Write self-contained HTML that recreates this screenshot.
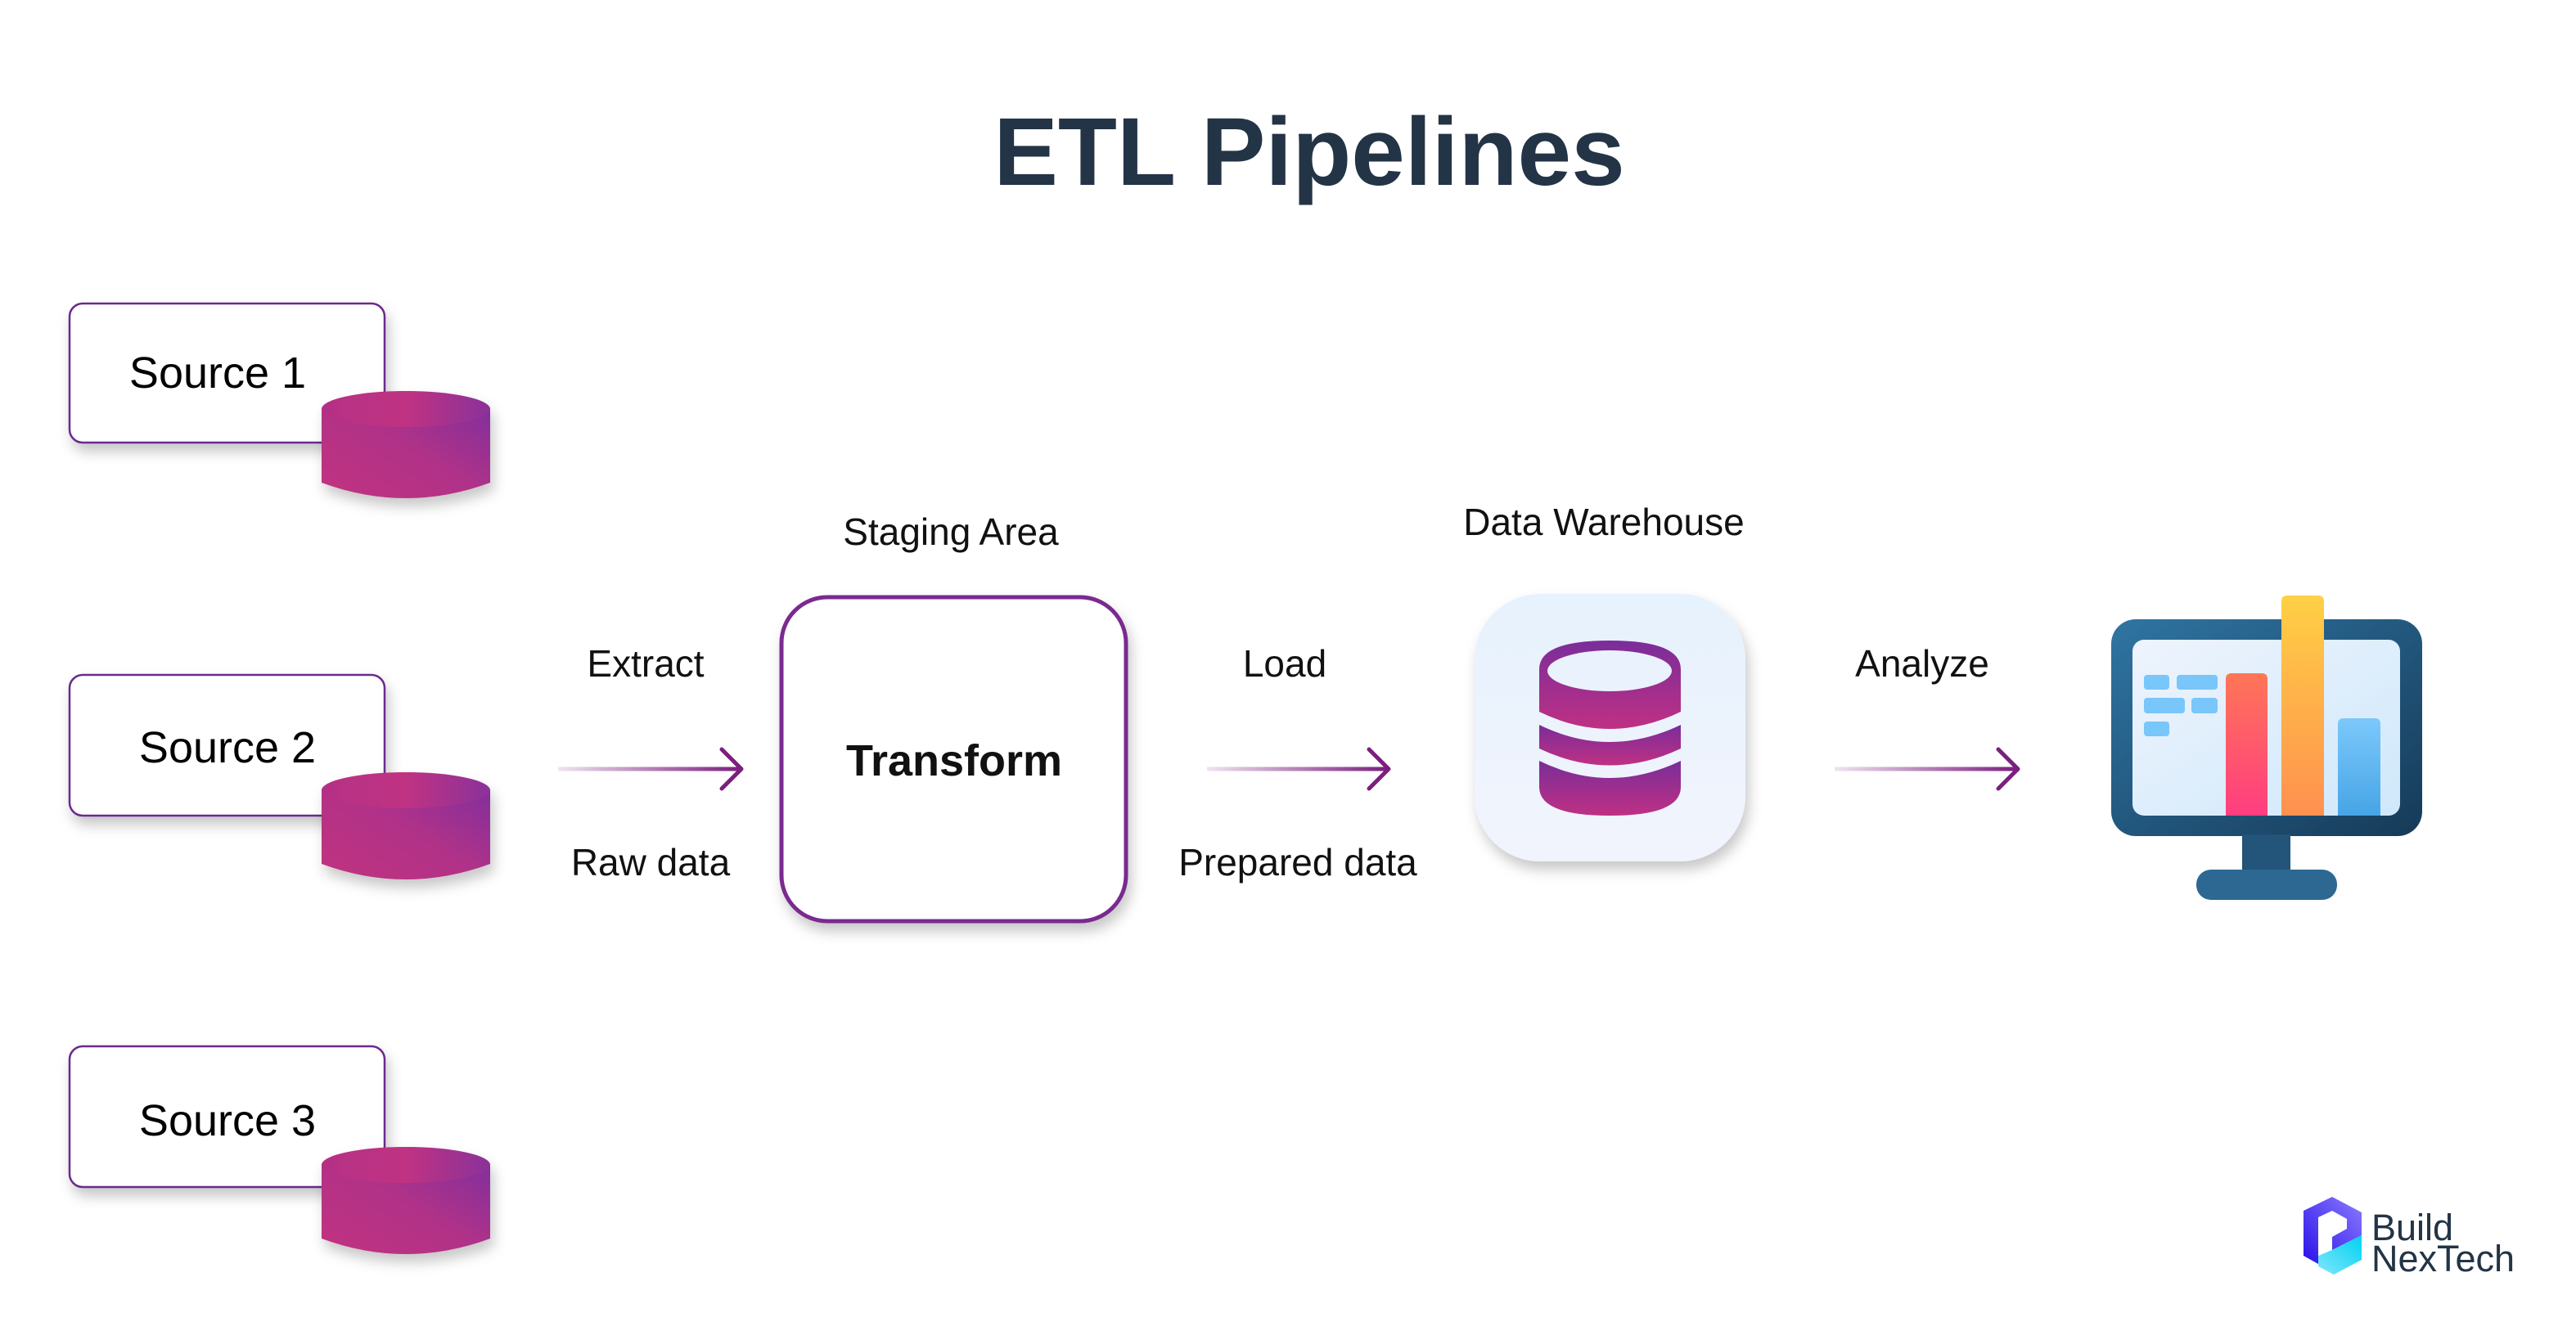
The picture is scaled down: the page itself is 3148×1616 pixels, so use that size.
<!DOCTYPE html>
<html><head><meta charset="utf-8"><style>
html,body{margin:0;padding:0;background:#fff;}
svg{display:block;}
text{font-family:"Liberation Sans",sans-serif;}
</style></head><body>
<svg width="3148" height="1616" viewBox="0 0 3148 1616" xmlns="http://www.w3.org/2000/svg">
<defs>
<linearGradient id="cyl" x1="0" y1="1" x2="1" y2="0">
<stop offset="0" stop-color="#c2307f"/><stop offset="0.5" stop-color="#b03088"/><stop offset="1" stop-color="#7a2fa0"/></linearGradient>
<linearGradient id="cyltop" x1="0" y1="0" x2="1" y2="0">
<stop offset="0" stop-color="#b52f86"/><stop offset="0.5" stop-color="#c03282"/><stop offset="1" stop-color="#8a309a"/></linearGradient>
<linearGradient id="arr" x1="0" y1="0" x2="1" y2="0">
<stop offset="0" stop-color="#7b1f7e" stop-opacity="0.12"/><stop offset="1" stop-color="#7b1f7e"/></linearGradient>
<linearGradient id="dwbg" x1="0" y1="0" x2="0" y2="1">
<stop offset="0" stop-color="#e6f2fd"/><stop offset="1" stop-color="#f2f4fd"/></linearGradient>
<linearGradient id="dbg" x1="0" y1="0" x2="0" y2="1">
<stop offset="0" stop-color="#7a2d9a"/><stop offset="1" stop-color="#bf3083"/></linearGradient>
<linearGradient id="mon" x1="0" y1="0" x2="1" y2="1">
<stop offset="0" stop-color="#2f75a3"/><stop offset="1" stop-color="#163a58"/></linearGradient>
<linearGradient id="scr" x1="0" y1="0" x2="1" y2="1">
<stop offset="0" stop-color="#eef4fd"/><stop offset="1" stop-color="#cfe8fb"/></linearGradient>
<linearGradient id="red" x1="0" y1="0" x2="0" y2="1"><stop offset="0" stop-color="#ff7657"/><stop offset="1" stop-color="#ff3d80"/></linearGradient>
<linearGradient id="yel" x1="0" y1="0" x2="0" y2="1"><stop offset="0" stop-color="#ffd044"/><stop offset="1" stop-color="#ff9050"/></linearGradient>
<linearGradient id="blu" x1="0" y1="0" x2="0" y2="1"><stop offset="0" stop-color="#7cc8fb"/><stop offset="1" stop-color="#46a5e6"/></linearGradient>
<linearGradient id="lg1" x1="0" y1="1" x2="1" y2="0"><stop offset="0" stop-color="#2a10e8"/><stop offset="1" stop-color="#8b7cff"/></linearGradient>
<linearGradient id="lg2" x1="0" y1="1" x2="1" y2="0"><stop offset="0" stop-color="#80e6fb"/><stop offset="1" stop-color="#00d2f2"/></linearGradient>
<filter id="sh" x="-20%" y="-20%" width="150%" height="160%"><feDropShadow dx="4" dy="10" stdDeviation="8" flood-color="#000" flood-opacity="0.22"/></filter>
<g id="cylinder">
<path d="M0 22 Q103 -22 206 22 L206 112 Q103 150 0 112 Z" fill="url(#cyl)"/>
<ellipse cx="103" cy="22" rx="103" ry="22" fill="url(#cyltop)"/>
</g>
</defs>

<text x="1600" y="226" font-size="118" font-weight="bold" fill="#233446" text-anchor="middle">ETL Pipelines</text>

<g>
<rect x="85" y="371" width="385" height="170" rx="16" fill="#fff" stroke="#6b2a8f" stroke-width="2.5" filter="url(#sh)"/>
<text x="266" y="474" font-size="54" text-anchor="middle" fill="#000">Source 1</text>
<use href="#cylinder" x="393" y="478" filter="url(#sh)"/>
<rect x="85" y="825" width="385" height="172" rx="16" fill="#fff" stroke="#6b2a8f" stroke-width="2.5" filter="url(#sh)"/>
<text x="278" y="932" font-size="54" text-anchor="middle" fill="#000">Source 2</text>
<use href="#cylinder" x="393" y="944" filter="url(#sh)"/>
<rect x="85" y="1279" width="385" height="172" rx="16" fill="#fff" stroke="#6b2a8f" stroke-width="2.5" filter="url(#sh)"/>
<text x="278" y="1388" font-size="54" text-anchor="middle" fill="#000">Source 3</text>
<use href="#cylinder" x="393" y="1402" filter="url(#sh)"/>
</g>

<rect x="682" y="937.5" width="222" height="5" fill="url(#arr)"/>
<rect x="1475" y="937.5" width="220" height="5" fill="url(#arr)"/>
<rect x="2242" y="937.5" width="222" height="5" fill="url(#arr)"/>
<g fill="none" stroke="#7b1f7e" stroke-width="5" stroke-linecap="round" stroke-linejoin="round">
<polyline points="882,916 906,940 882,964"/>
<polyline points="1673,916 1697,940 1673,964"/>
<polyline points="2442,916 2466,940 2442,964"/>
</g>

<text x="789" y="827" font-size="46" text-anchor="middle" fill="#111">Extract</text>
<text x="795" y="1070" font-size="46" text-anchor="middle" fill="#111">Raw data</text>
<text x="1570" y="827" font-size="46" text-anchor="middle" fill="#111">Load</text>
<text x="1586" y="1070" font-size="46" text-anchor="middle" fill="#111">Prepared data</text>
<text x="2349" y="827" font-size="46" text-anchor="middle" fill="#111">Analyze</text>
<text x="1162" y="666" font-size="46" text-anchor="middle" fill="#111">Staging Area</text>
<text x="1960" y="654" font-size="46" text-anchor="middle" fill="#111">Data Warehouse</text>

<rect x="955" y="730" width="421" height="396" rx="56" fill="#fff" stroke="#7a2a90" stroke-width="5" filter="url(#sh)"/>
<text x="1166" y="948" font-size="54" font-weight="bold" text-anchor="middle" fill="#111">Transform</text>

<rect x="1802" y="726" width="331" height="327" rx="80" fill="url(#dwbg)" filter="url(#sh)"/>
<g fill="url(#dbg)">
<path d="M1881 818 Q1881 783 1967 783 Q2054 783 2054 818 L2054 870 Q1967 912 1881 870 Z"/>
<path d="M1881 886 Q1967 928 2054 886 L2054 915 Q1967 956 1881 915 Z"/>
<path d="M1881 930 Q1967 972 2054 930 L2054 962 Q2054 997 1967 997 Q1881 997 1881 962 Z"/>
</g>
<ellipse cx="1967" cy="820" rx="76" ry="25" fill="#eaf2fd"/>

<rect x="2580" y="757" width="380" height="265" rx="30" fill="url(#mon)"/>
<rect x="2606" y="782" width="327" height="215" rx="14" fill="url(#scr)"/>
<rect x="2740" y="1020" width="59" height="46" fill="#235479"/>
<rect x="2684" y="1063" width="172" height="37" rx="18" fill="#2c6892"/>
<g fill="#79c6fa">
<rect x="2620" y="825" width="31" height="18" rx="4"/>
<rect x="2660" y="825" width="50" height="18" rx="4"/>
<rect x="2620" y="853" width="50" height="19" rx="4"/>
<rect x="2678" y="853" width="32" height="19" rx="4"/>
<rect x="2620" y="882" width="31" height="18" rx="4"/>
</g>
<path d="M2720 997 V830 Q2720 823 2727 823 H2764 Q2771 823 2771 830 V997 Z" fill="url(#red)"/>
<path d="M2788 997 V735 Q2788 728 2795 728 H2833 Q2840 728 2840 735 V997 Z" fill="url(#yel)"/>
<path d="M2857 997 V885 Q2857 878 2864 878 H2902 Q2909 878 2909 885 V997 Z" fill="url(#blu)"/>

<polygon points="2815,1480 2850,1463 2886,1482 2886,1510 2850,1528 2850,1512 2868,1502 2868,1490 2850,1480 2833,1488 2833,1545 2815,1535" fill="url(#lg1)"/>
<polygon points="2850,1528 2886,1510 2886,1540 2852,1558 2833,1548 2833,1535" fill="url(#lg2)"/>
<text x="2898" y="1516" font-size="45" fill="#233446">Build</text>
<text x="2898" y="1554" font-size="45" fill="#233446">NexTech</text>
</svg>
</body></html>
